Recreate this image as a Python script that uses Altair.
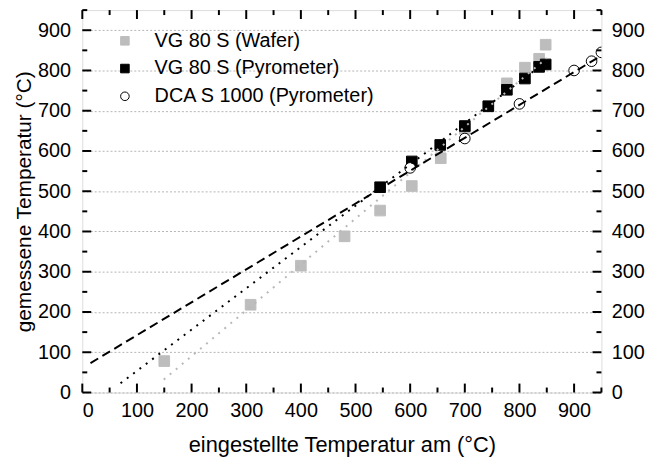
import altair as alt
import pandas as pd

# ---- data ----
series_names = ["VG 80 S (Wafer)", "VG 80 S (Pyrometer)", "DCA S 1000 (Pyrometer)"]

wafer_x = [150, 308, 400, 480, 545, 603, 656, 700, 743, 777, 810, 836, 848]
wafer_y = [78, 218, 315, 388, 452, 513, 582, 655, 712, 768, 807, 829, 864]

pyro_x = [545, 603, 655, 700, 743, 777, 810, 836, 848]
pyro_y = [510, 574, 615, 662, 711, 752, 780, 809, 815]

dca_x = [600, 700, 800, 900, 932, 950]
dca_y = [558, 631, 717, 800, 823, 845]

# fit lines (end points)
fit_dca_x = [15, 950]
fit_dca_y = [73, 837]
fit_pyro_x = [70, 850]
fit_pyro_y = [23, 823]
fit_wafer_x = [149, 850]
fit_wafer_y = [32, 831]

major_ticks = [0, 100, 200, 300, 400, 500, 600, 700, 800, 900]
minor_ticks = [50, 150, 250, 350, 450, 550, 650, 750, 850, 950]

FONT = "Liberation Sans"
W, H = 524, 386
LBL = 20
TTL = 21

pts = pd.DataFrame(
    {"x": wafer_x, "y": wafer_y, "s": series_names[0]}
)
pts = pd.concat([
    pts,
    pd.DataFrame({"x": pyro_x, "y": pyro_y, "s": series_names[1]}),
    pd.DataFrame({"x": dca_x, "y": dca_y, "s": series_names[2]}),
], ignore_index=True)
pts["o"] = pts["s"].map({n: i for i, n in enumerate(series_names)})

xs = alt.Scale(domain=[0, 950], nice=False, zero=False)
ys = alt.Scale(domain=[0, 950], nice=False, zero=False)

legend = alt.Legend(
    orient="none", legendX=33, legendY=21, title=None,
    labelFont=FONT, labelFontSize=20, labelColor="black", labelLimit=400,
    symbolSize=75, symbolStrokeWidth=1, rowPadding=8, labelOffset=20,
)

points = alt.Chart(pts).mark_point(filled=True, size=115, opacity=1, strokeWidth=1, clip=True).encode(
    x=alt.X("x:Q", scale=xs, axis=alt.Axis(
        values=major_ticks, ticks=False, domain=False, grid=False,
        labelFont=FONT, labelFontSize=LBL, labelColor="black", labelPadding=8,
        title="eingestellte Temperatur am (°C)", titleFont=FONT, titleFontSize=TTL + 1,
        titleFontWeight="normal", titleColor="black", titlePadding=15)),
    y=alt.Y("y:Q", scale=ys, axis=alt.Axis(
        values=major_ticks, ticks=False, domain=False, grid=True,
        gridColor="#b4b4b4", gridDash=[2, 2], gridWidth=1,
        labelFont=FONT, labelFontSize=LBL, labelColor="black", labelPadding=12,
        title="gemessene Temperatur (°C)", titleFont=FONT, titleFontSize=TTL,
        titleFontWeight="normal", titleColor="black", titlePadding=3)),
    shape=alt.Shape("s:N", sort=series_names, legend=legend,
                    scale=alt.Scale(domain=series_names, range=["square", "square", "circle"])),
    fill=alt.Fill("s:N", sort=series_names, legend=legend,
                  scale=alt.Scale(domain=series_names, range=["#bdbdbd", "black", "white"])),
    stroke=alt.Stroke("s:N", sort=series_names, legend=legend,
                      scale=alt.Scale(domain=series_names, range=["#bdbdbd", "black", "black"])),
    order="o:Q",
)

def fit_line(xv, yv, color, dash, width):
    df = pd.DataFrame({"x": xv, "y": yv})
    return alt.Chart(df).mark_line(color=color, strokeDash=dash, strokeWidth=width, clip=True).encode(
        x=alt.X("x:Q", scale=xs, axis=None),
        y=alt.Y("y:Q", scale=ys, axis=None),
    )

line_wafer = fit_line(fit_wafer_x, fit_wafer_y, "#b8b8b8", [2, 6], 2)
line_pyro = fit_line(fit_pyro_x, fit_pyro_y, "black", [2, 6], 2)
line_dca = fit_line(fit_dca_x, fit_dca_y, "black", [9, 5], 2)

maj = pd.DataFrame({"v": major_ticks})
mnr = pd.DataFrame({"v": minor_ticks})

def xticks(df, length, top):
    if top:
        y1, y2 = 0, length
    else:
        y1, y2 = H, H - length
    return alt.Chart(df).mark_rule(color="black", strokeWidth=2).encode(
        x=alt.X("v:Q", scale=xs, axis=None), y=alt.value(y1), y2=alt.value(y2))

def yticks(df, length, right, axis=None):
    if right:
        x1, x2 = W, W - length
    else:
        x1, x2 = 0, length
    return alt.Chart(df).mark_rule(color="black", strokeWidth=2).encode(
        y=alt.Y("v:Q", scale=ys, axis=axis), x=alt.value(x1), x2=alt.value(x2))

right_axis = alt.Axis(
    orient="right", values=major_ticks, ticks=False, domain=False, grid=False,
    labelFont=FONT, labelFontSize=LBL, labelColor="black", labelPadding=10, title=None)

layers = [
    points,
    line_wafer, line_pyro, line_dca,
    xticks(maj, 9, False), xticks(mnr, 5, False),
    xticks(maj, 9, True), xticks(mnr, 5, True),
    yticks(maj, 9, False), yticks(mnr, 5, False),
    yticks(mnr, 5, True),
    yticks(maj, 9, True, right_axis),
]

chart = alt.layer(*layers).resolve_axis(y="independent", x="independent").properties(
    width=W, height=H,
    autosize=alt.AutoSizeParams(type="none"),
    padding={"left": 75, "top": 0, "right": 45, "bottom": 64},
).configure_view(stroke="black", strokeWidth=2).configure(background="white")

chart.save("out.html", embed_options={"renderer": "svg", "actions": False})
